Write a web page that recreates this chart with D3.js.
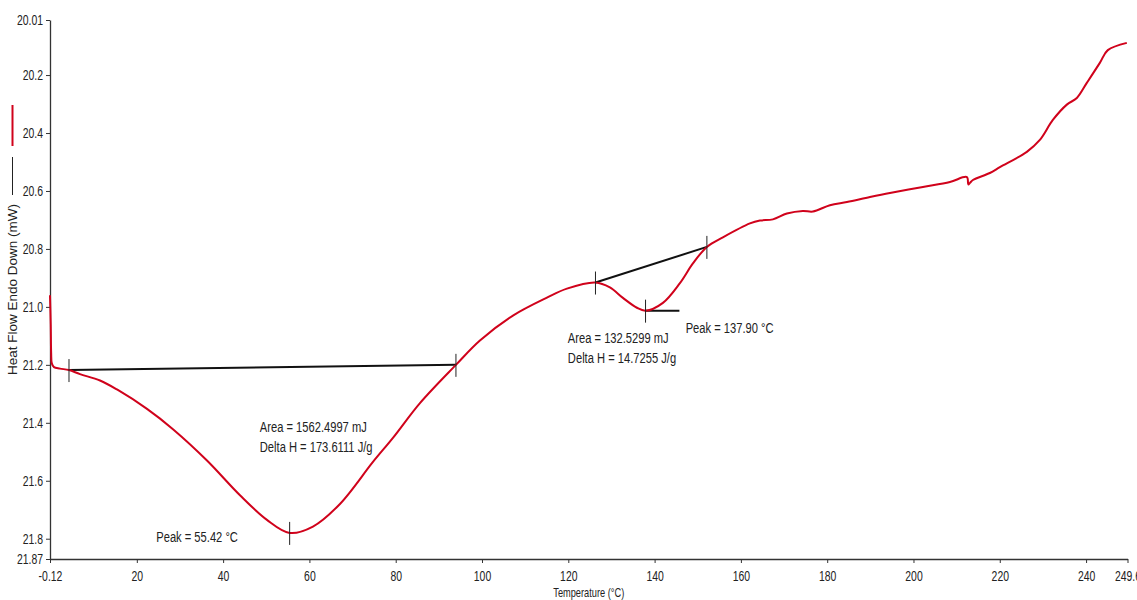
<!DOCTYPE html>
<html>
<head>
<meta charset="utf-8">
<script src="https://cdn.jsdelivr.net/npm/d3@7"></script>
<style>
  body { margin: 0; background: #fff; }
  svg { display: block; }
  .axis path, .axis line { stroke: #333; }
  .axis text { font-family: "Liberation Sans", Arial, sans-serif; font-size: 14.5px; fill: #222; }
  .note { font-family: "Liberation Sans", Arial, sans-serif; font-size: 15.5px; fill: #222; }
</style>
</head>
<body>
<div id="chart"></div>
<script>
// DSC curve (temperature in °C, heat flow in mW)
const temperature = [-0.12, 0.05, 0.15, 0.3, 0.8, 2.2, 4.28, 6.83, 11.47, 15.41, 22.36, 28.38, 36.26, 43.91,
  50.16, 55.42, 60.82, 67.08, 74.73, 79.36, 85.62, 93.96, 99.52, 107.17, 115.05, 119.68, 126.3, 129.64,
  132.66, 135.9, 137.9, 141.93, 145.87, 148.88, 152.12, 155.83, 162.09, 164.41, 167.42, 170.66, 174.37,
  176.69, 180.63, 184.57, 189.9, 194.53, 202.18, 208.44, 212.38, 212.7, 213.1, 213.77, 217.7, 220.02,
  226.27, 229.29, 232.3, 235.54, 237.86, 240.17, 243.19, 245.04, 249.44];
const heatFlow = [20.96, 21.06, 21.16, 21.195, 21.208, 21.213, 21.218, 21.232, 21.254, 21.285, 21.352, 21.422,
  21.53, 21.65, 21.735, 21.78, 21.758, 21.68, 21.535, 21.452, 21.332, 21.2, 21.116, 21.03, 20.968,
  20.937, 20.916, 20.933, 20.969, 21.003, 21.013, 20.986, 20.918, 20.85, 20.793, 20.76, 20.712, 20.702,
  20.698, 20.678, 20.669, 20.671, 20.649, 20.638, 20.621, 20.607, 20.586, 20.569, 20.552, 20.578, 20.572,
  20.562, 20.538, 20.518, 20.465, 20.424, 20.355, 20.302, 20.279, 20.227, 20.158, 20.114, 20.089];

const xTicks = [-0.12, 20, 40, 60, 80, 100, 120, 140, 160, 180, 200, 220, 240, 249.6];
const xTickLabels = ["-0.12", "20", "40", "60", "80", "100", "120", "140", "160", "180", "200", "220", "240", "249.6"];
const yTicks = [20.01, 20.2, 20.4, 20.6, 20.8, 21.0, 21.2, 21.4, 21.6, 21.8, 21.87];
const yTickLabels = ["20.01", "20.2", "20.4", "20.6", "20.8", "21.0", "21.2", "21.4", "21.6", "21.8", "21.87"];

// integration baselines [T1, V1, T2, V2]
const baselines = [[4.28, 21.218, 93.96, 21.2], [126.3, 20.916, 152.12, 20.793], [137.9, 21.013, 145.75, 21.013]];
// limit and peak markers [T, V]
const markers = [[4.28, 21.218], [93.96, 21.2], [55.42, 21.78], [126.3, 20.916], [152.12, 20.793], [137.9, 21.013]];
// annotation texts with their anchor in data units
const noteTexts = ["Area = 1562.4997 mJ", "Delta H = 173.6111 J/g", "Peak = 55.42 °C",
  "Area = 132.5299 mJ", "Delta H = 14.7255 J/g", "Peak = 137.90 °C"];
const noteT = [48.5, 48.5, 24.5, 119.9, 119.9, 147.2];
const noteV = [21.433, 21.502, 21.81, 21.125, 21.194, 21.091];

const width = 1137, height = 600;
const margin = { top: 20, right: 9.5, bottom: 41, left: 50 };
const squeeze = 0.72; // the reference text is horizontally condensed

const svg = d3.select("#chart").append("svg")
  .attr("width", width)
  .attr("height", height);

const x = d3.scaleLinear()
  .domain([-0.12, 249.6])
  .range([margin.left, width - margin.right]);

const y = d3.scaleLinear()
  .domain([20.01, 21.87])
  .range([margin.top, height - margin.bottom]);

// axes
svg.append("g")
  .attr("class", "axis")
  .attr("transform", `translate(0,${height - margin.bottom})`)
  .call(d3.axisBottom(x).tickValues(xTicks).tickFormat((d, i) => xTickLabels[i]).tickSize(4).tickSizeOuter(0))
  .call(g => g.select(".domain").attr("stroke-width", 1.6))
  .call(g => g.selectAll("text").attr("y", 12).attr("dy", "0.71em").attr("transform", `scale(${squeeze},1)`));

svg.append("g")
  .attr("class", "axis")
  .attr("transform", `translate(${margin.left},0)`)
  .call(d3.axisLeft(y).tickValues(yTicks).tickFormat((d, i) => yTickLabels[i]).tickSize(4).tickSizeOuter(0))
  .call(g => g.select(".domain").attr("stroke-width", 1.3))
  .call(g => g.selectAll("text").attr("x", -7 / squeeze).attr("transform", `scale(${squeeze},1)`));

svg.append("text")
  .attr("class", "note")
  .attr("transform", `translate(${(margin.left + width - margin.right) / 2},597) scale(0.74,1)`)
  .attr("text-anchor", "middle")
  .style("font-size", "12.5px")
  .text("Temperature (°C)");

svg.append("text")
  .attr("transform", `translate(17,${(margin.top + height - margin.bottom) / 2}) rotate(-90)`)
  .attr("text-anchor", "middle")
  .style("font-family", "'Liberation Sans', Arial, sans-serif")
  .style("font-size", "13.5px")
  .attr("fill", "#222")
  .text("Heat Flow Endo Down (mW)");

// legend swatches beside the y label
svg.append("line")
  .attr("x1", 12.5).attr("x2", 12.5).attr("y1", 105).attr("y2", 146)
  .attr("stroke", "#d0021b").attr("stroke-width", 2);
svg.append("line")
  .attr("x1", 12.5).attr("x2", 12.5).attr("y1", 157).attr("y2", 195)
  .attr("stroke", "#222").attr("stroke-width", 1);

// baselines
svg.append("g")
  .selectAll("line")
  .data(baselines)
  .join("line")
  .attr("x1", d => x(d[0]))
  .attr("y1", d => y(d[1]))
  .attr("x2", d => x(d[2]))
  .attr("y2", d => y(d[3]))
  .attr("stroke", "#111")
  .attr("stroke-width", 2);

// curve
const points = temperature.map((t, i) => [t, heatFlow[i]]);
const line = d3.line()
  .x(d => x(d[0]))
  .y(d => y(d[1]))
  .curve(d3.curveCatmullRom.alpha(0.5));

svg.append("path")
  .datum(points)
  .attr("fill", "none")
  .attr("stroke", "#d0021b")
  .attr("stroke-width", 2)
  .attr("stroke-linejoin", "round")
  .attr("d", line);

// vertical markers
svg.append("g")
  .selectAll("line")
  .data(markers)
  .join("line")
  .attr("x1", d => x(d[0]))
  .attr("x2", d => x(d[0]))
  .attr("y1", d => y(d[1]) - 11)
  .attr("y2", d => y(d[1]) + 12)
  .attr("stroke", "#222")
  .attr("stroke-width", 1);

// annotations
svg.append("g")
  .selectAll("text")
  .data(noteTexts)
  .join("text")
  .attr("class", "note")
  .attr("transform", (d, i) => `translate(${x(noteT[i])},${y(noteV[i])}) scale(${squeeze},1)`)
  .text(d => d);
</script>
</body>
</html>
